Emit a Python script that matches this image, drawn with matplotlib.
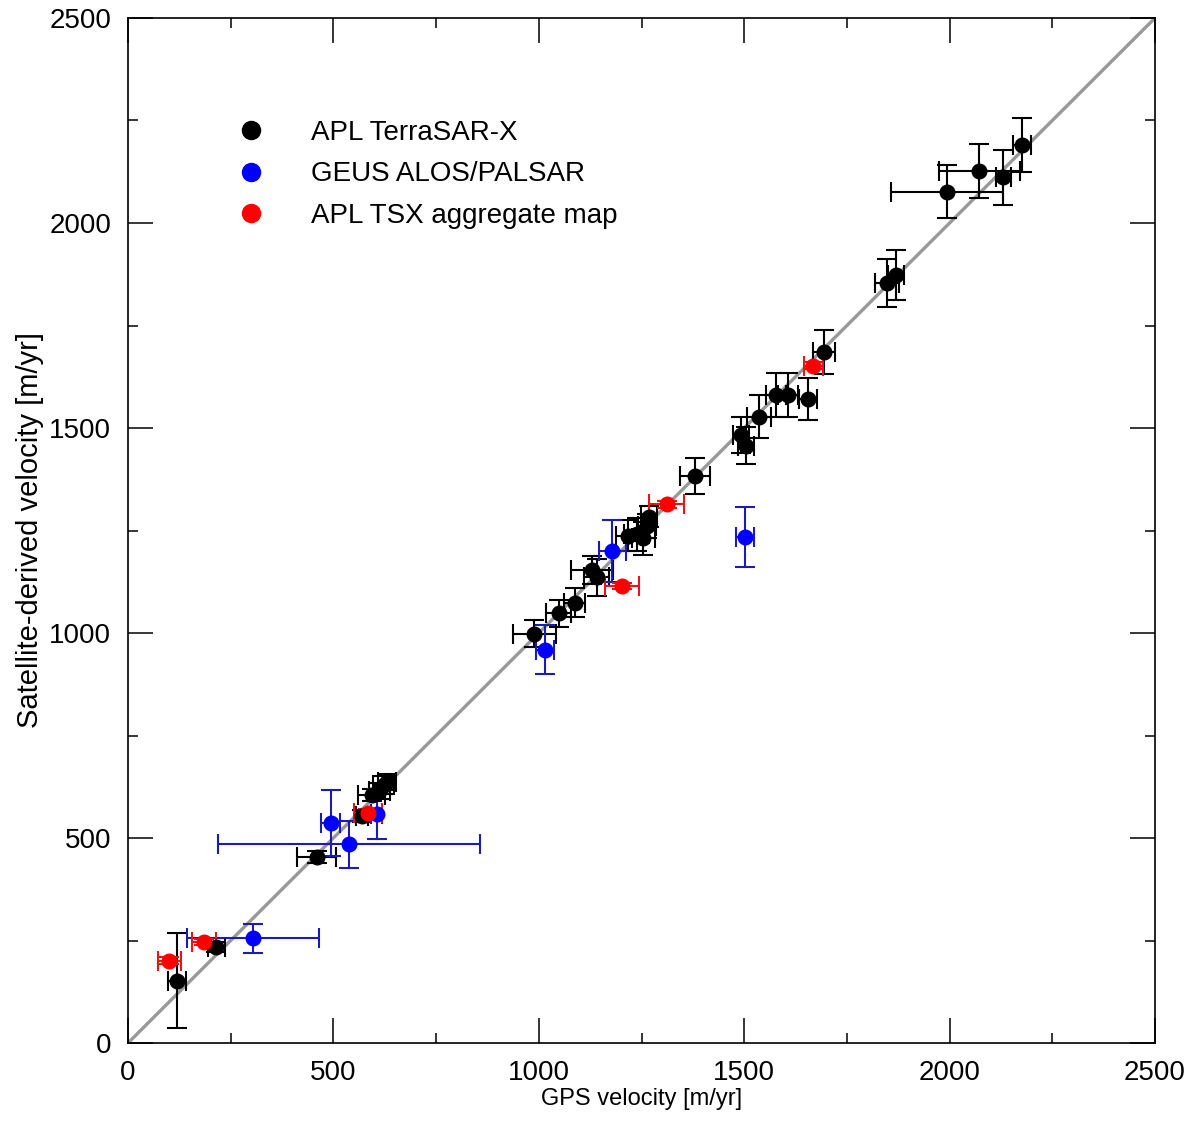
import matplotlib
matplotlib.use('Agg')
import matplotlib.pyplot as plt
from matplotlib.lines import Line2D

plt.rcParams['font.family'] = ['Liberation Sans', 'DejaVu Sans']

# APL TerraSAR-X
tsx_x = [120, 215, 459, 569, 593, 612, 622, 630, 989, 1048, 1087, 1129, 1141,
         1218, 1238, 1254, 1263, 1268, 1380, 1492, 1504, 1536, 1577, 1607, 1655,
         1694, 1848, 1870, 1994, 2072, 2131, 2177]
tsx_y = [152, 235, 454, 554, 605, 615, 629, 636, 998, 1048, 1074, 1154, 1136,
         1237, 1241, 1231, 1261, 1284, 1383, 1483, 1457, 1528, 1580, 1580, 1571,
         1686, 1853, 1873, 2076, 2127, 2111, 2190]
tsx_xerr = [22, 20, 47, 15, 33, 25, 25, 22, 53, 30, 26, 51, 30,
            30, 30, 28, 22, 20, 36, 20, 20, 29, 25, 25, 22,
            26, 30, 20, 137, 99, 19, 22]
tsx_yerr = [116, 12, 14, 14, 15, 20, 22, 20, 33, 33, 36, 35, 45,
            38, 40, 40, 30, 25, 45, 45, 46, 53, 53, 53, 51,
            54, 59, 60, 65, 66, 67, 66]

# GEUS ALOS/PALSAR
geus_x = [304, 493, 538, 605, 1015, 1179, 1502]
geus_y = [255, 536, 485, 558, 959, 1200, 1235]
geus_xerr = [160, 23, 320, 14, 23, 33, 22]
geus_yerr = [35, 80, 57, 61, 60, 76, 73]

# APL TSX aggregate map
agg_x = [101, 185, 585, 1202, 1311, 1668]
agg_y = [201, 246, 562, 1115, 1314, 1652]
agg_xerr = [29, 29, 34, 41, 43, 23]
agg_yerr = [8, 8, 8, 8, 8, 8]

labels = ['APL TerraSAR-X', 'GEUS ALOS/PALSAR', 'APL TSX aggregate map']

fig = plt.figure(figsize=(11.88, 11.21), dpi=100)
ax = fig.add_axes([128/1188, 1 - 1043/1121, 1027/1188, 1025/1121])

ax.plot([0, 2500], [0, 2500], color='#999999', lw=2.4, zorder=1)

eb = dict(fmt='o', ms=10.5, elinewidth=1.5, capsize=7, capthick=1.5, zorder=3)
ax.errorbar(tsx_x, tsx_y, xerr=tsx_xerr, yerr=tsx_yerr, color='black', ecolor='black', **eb)
ax.errorbar(geus_x, geus_y, xerr=geus_xerr, yerr=geus_yerr, color='#0000ff', ecolor='#1c1cb4', **eb)
ax.errorbar(agg_x, agg_y, xerr=agg_xerr, yerr=agg_yerr, color='#ff0000', ecolor='#e01818', **eb)

handles = [Line2D([], [], ls='none', marker='o', ms=13, color=c)
           for c in ['black', '#0000ff', '#ff0000']]
ax.legend(handles, labels, loc='upper left', bbox_to_anchor=(0.0815, 0.925),
          frameon=False, fontsize=20, handlelength=1.0, handletextpad=1.66,
          labelspacing=0.56)

ax.set_xlim(0, 2500)
ax.set_ylim(0, 2500)
ax.set_xticks([0, 500, 1000, 1500, 2000, 2500])
ax.set_yticks([0, 500, 1000, 1500, 2000, 2500])
ax.set_xticks([250, 750, 1250, 1750, 2250], minor=True)
ax.set_yticks([250, 750, 1250, 1750, 2250], minor=True)
ax.tick_params(which='both', direction='in', top=True, right=True, width=1.1, labelsize=20)
ax.tick_params(which='major', length=18)
ax.tick_params(which='minor', length=7)
ax.tick_params(axis='x', pad=12)
ax.tick_params(axis='y', pad=12)
for s in ax.spines.values():
    s.set_linewidth(1.2)

ax.set_xlabel('GPS velocity [m/yr]', fontsize=17, labelpad=2)
ax.set_ylabel('Satellite-derived velocity [m/yr]', fontsize=21, labelpad=4)

fig.savefig('out.png', dpi=100)
